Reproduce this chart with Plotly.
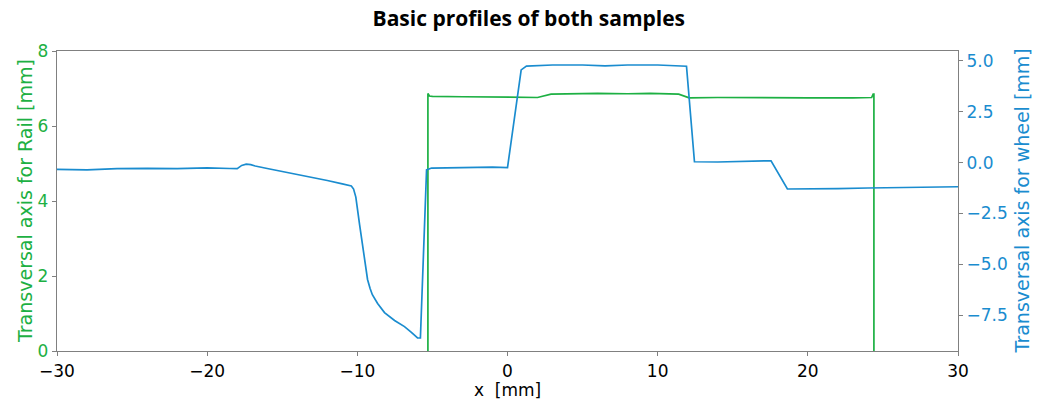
import plotly.graph_objects as go

# Rail profile (left axis, mm)
rail_x = [-5.3, -5.3, -5.2, -5.0, -3.0, -1.0, 1.0, 2.0, 2.9, 4.0, 6.0, 8.0, 9.5, 11.4, 12.1, 14.0, 17.0, 20.0, 23.0, 24.25, 24.35, 24.4, 24.4]
rail_y = [0.0, 6.87, 6.80, 6.79, 6.78, 6.78, 6.77, 6.76, 6.85, 6.86, 6.87, 6.86, 6.87, 6.85, 6.75, 6.76, 6.75, 6.75, 6.75, 6.76, 6.85, 6.85, 0.0]

# Wheel profile (right axis, mm)
wheel_x = [-30, -28, -26, -24, -22, -20, -18.5, -18.0, -17.7, -17.4, -17.1, -16.8, -16, -15, -14, -13, -12, -11,
           -10.4, -10.25, -10.1, -9.85, -9.6, -9.45, -9.32, -9.15, -9.0, -8.65, -8.19, -7.52, -6.86,
           -6.4, -5.99, -5.8, -5.39, -5.06, -3, -1, 0.0, 0.91, 1.26, 3, 5, 6.5, 8, 10, 11.92, 12.45,
           14, 16, 17.55, 18.64, 20, 22, 24, 26, 28, 30]
wheel_y = [-0.33, -0.36, -0.30, -0.28, -0.30, -0.26, -0.29, -0.30, -0.14, -0.08, -0.10, -0.17, -0.29, -0.44,
           -0.56, -0.71, -0.88, -1.05, -1.15, -1.30, -1.70, -3.05, -4.30, -5.10, -5.75, -6.20,
           -6.50, -6.93, -7.38, -7.77, -8.07, -8.35, -8.63, -8.63, -0.36, -0.27, -0.24, -0.22,
           -0.25, 4.56, 4.75, 4.80, 4.80, 4.76, 4.80, 4.80, 4.74, 0.04, 0.03, 0.05, 0.09, -1.30,
           -1.30, -1.28, -1.25, -1.22, -1.22, -1.19]

x_ticks = [-30, -20, -10, 0, 10, 20, 30]
rail_ticks = [0, 2, 4, 6, 8]
wheel_ticks = [-7.5, -5.0, -2.5, 0.0, 2.5, 5.0]

GREEN = "#1db043"
BLUE = "#1a8ccf"
AXIS = "#808080"
FONT = "DejaVu Sans"

fig = go.Figure()
fig.add_trace(go.Scatter(x=wheel_x, y=wheel_y, mode="lines", yaxis="y2",
                         line=dict(color=BLUE, width=1.7), showlegend=False))
fig.add_trace(go.Scatter(x=rail_x, y=rail_y, mode="lines", yaxis="y",
                         line=dict(color=GREEN, width=1.7), showlegend=False))

fig.update_layout(
    width=1043, height=399,
    margin=dict(l=57, r=85, t=51, b=48),
    paper_bgcolor="white", plot_bgcolor="white",
    title=dict(text="<b>Basic profiles of both samples</b>", x=0.507, xanchor="center",
               y=0.953, yanchor="middle",
               font=dict(family="Open Sans", size=21, color="black")),
    xaxis=dict(range=[-30, 30], tickvals=x_ticks, ticks="outside", ticklen=4,
               tickcolor=AXIS, showline=True, linecolor=AXIS, linewidth=1.3, mirror=True,
               showgrid=False, zeroline=False, automargin=False,
               tickfont=dict(family=FONT, size=17, color="black")),
    yaxis=dict(range=[0, 8], tickvals=rail_ticks, ticks="outside", ticklen=4,
               tickcolor=AXIS, showline=True, linecolor=AXIS, linewidth=1.3,
               showgrid=False, zeroline=False, automargin=False,
               tickfont=dict(family=FONT, size=17, color=GREEN)),
    yaxis2=dict(range=[-9.27, 5.49], tickvals=wheel_ticks, tickformat=".1f",
                overlaying="y", side="right", ticks="outside", ticklen=4,
                tickcolor=AXIS, showline=True, linecolor=AXIS, linewidth=1.3,
                showgrid=False, zeroline=False, automargin=False,
                tickfont=dict(family=FONT, size=17, color=BLUE)),
    annotations=[
        dict(text="x  [mm]", xref="paper", yref="paper", x=0.5, y=-0.13,
             xanchor="center", yanchor="middle", showarrow=False, borderpad=0,
             font=dict(family=FONT, size=17, color="black")),
        dict(text="Transversal axis for Rail [mm]", xref="paper", yref="paper",
             x=-0.0355, y=0.5, xanchor="center", yanchor="middle", textangle=-90,
             showarrow=False, font=dict(family=FONT, size=19, color=GREEN)),
        dict(text="Transversal axis for wheel [mm]", xref="paper", yref="paper",
             x=1.0715, y=0.5, xanchor="center", yanchor="middle", textangle=-90,
             showarrow=False, font=dict(family=FONT, size=19, color=BLUE)),
    ],
)

fig.write_html("out.html")
